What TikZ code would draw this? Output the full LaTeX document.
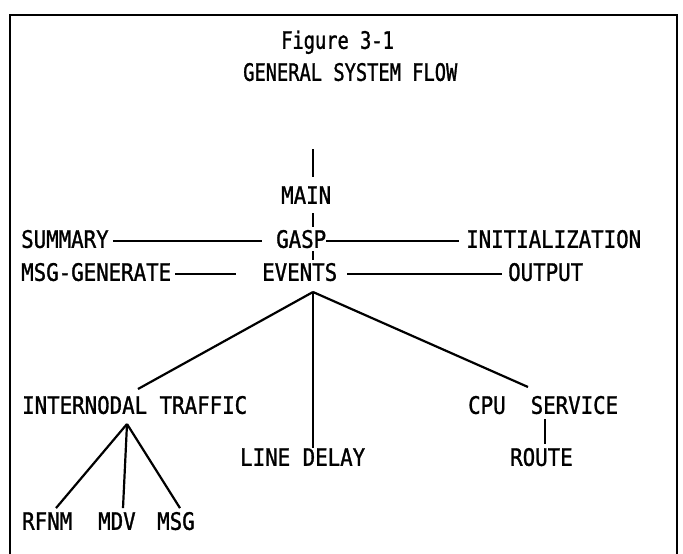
\documentclass[tikz,border=0pt]{standalone}
\usepackage{fontspec}
\setmonofont{DejaVu Sans Mono}[FakeStretch=0.865, FakeBold=1.2]
\newfontfamily\titlefont{DejaVu Sans Mono}[FakeStretch=0.78, FakeBold=1.2]
\usetikzlibrary{calc}

\begin{document}
\begin{tikzpicture}[
    x=1pt, y=-1pt,
    lbl/.style={font=\ttfamily\fontsize{24}{24}\selectfont, inner sep=0pt,
      text height=17.5pt, text depth=0pt, anchor=south west},
    ttl/.style={lbl, font=\titlefont\fontsize{24}{24}\selectfont},
    link/.style={line width=2.2pt},
    frame/.style={line width=2pt}
  ]
    \useasboundingbox (0,0) rectangle (683,554);
    % Rahmen
    \draw[frame] (10,554) -- (10,15) -- (677,15) -- (677,554);

    % Titel
    \node[ttl] (fig) at (281,49) {Figure 3-1};
    \node[ttl] (head) at (243,81) {GENERAL SYSTEM FLOW};

    % Hauptachse
    \coordinate (spine) at (313,0);
    \coordinate (mtop) at (313,149);
    \node[lbl] (main) at (281,204) {MAIN};
    \node[lbl] (summ) at (21,248) {SUMMARY};
    \node[lbl] (gasp) at (276,248) {GASP};
    \node[lbl] (init) at (466,248) {INITIALIZATION};
    \node[lbl] (msg) at (21,281) {MSG-GENERATE};
    \node[lbl] (evt) at (262,281) {EVENTS};
    \node[lbl] (out) at (508,281) {OUTPUT};

    % Unterprogramme
    \node[lbl] (itr) at (22,414) {INTERNODAL TRAFFIC};
    \node[lbl] (cpu) at (468,414) {CPU\ \ SERVICE};
    \node[lbl] (dly) at (240,466) {LINE DELAY};
    \node[lbl] (rte) at (510,466) {ROUTE};
    \node[lbl] (rfnm) at (22,530) {RFNM};
    \node[lbl] (mdv) at (98,530) {MDV};
    \node[lbl] (msgs) at (157,530) {MSG};

    % Verzweigungspunkte
    \coordinate (evroot) at (313,292);
    \coordinate (itrtop) at (138,389);
    \coordinate (itrfoot) at (127,424);
    \coordinate (cputop) at (528,387);
    \coordinate (cpufoot) at (545,419);

    % Verbindungen
    \draw[link, shorten >=9pt] (mtop) -- (main.north -| spine);
    \draw[link, shorten <=9pt, shorten >=3pt] (main.south -| spine) -- (gasp.north -| spine);
    \draw[link, shorten <=3pt, shorten >=3pt] (gasp.south -| spine) -- (evt.north -| spine);
    \draw[link, shorten <=4pt, shorten >=14pt] ([yshift=-2pt]summ.east) -- ([yshift=-2pt]gasp.west);
    \draw[link, shorten >=7pt] ([yshift=-2pt]gasp.east) -- ([yshift=-2pt]init.west);
    \draw[link, shorten <=4pt, shorten >=26pt] ([yshift=-2pt]msg.east) -- ([yshift=-2pt]evt.west);
    \draw[link, shorten <=10pt, shorten >=6pt] ([yshift=-2pt]evt.east) -- ([yshift=-2pt]out.west);
    \draw[link] (evroot) -- (itrtop);
    \draw[link] (evroot) -- (dly.north -| spine);
    \draw[link] (evroot) -- (cputop);
    \draw[link, shorten >=4pt] (cpufoot) -- (rte.north -| cpufoot);
    \draw[link] (itrfoot) -- ([xshift=34pt,yshift=4pt]rfnm.north west);
    \draw[link] (itrfoot) -- ([xshift=25pt,yshift=4pt]mdv.north west);
    \draw[link] (itrfoot) -- ([xshift=23pt,yshift=4pt]msgs.north west);
\end{tikzpicture}
\end{document}
